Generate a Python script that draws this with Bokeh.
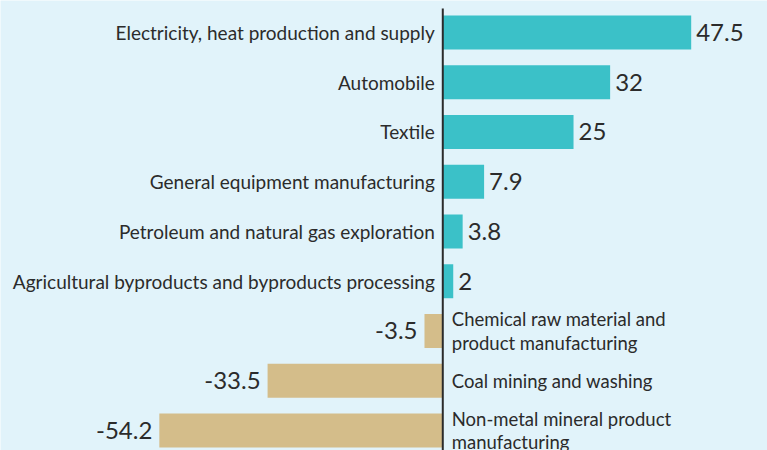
from bokeh.plotting import figure
from bokeh.models import ColumnDataSource, Range1d
from bokeh.core.properties import value
from bokeh.embed import file_html
from bokeh.resources import INLINE

categories = [
    "Electricity, heat production and supply",
    "Automobile",
    "Textile",
    "General equipment manufacturing",
    "Petroleum and natural gas exploration",
    "Agricultural byproducts and byproducts processing",
    "Chemical raw material and\nproduct manufacturing",
    "Coal mining and washing",
    "Non-metal mineral product\nmanufacturing",
]
values = [47.5, 32, 25, 7.9, 3.8, 2, -3.5, -33.5, -54.2]

BG = "#e1f3fa"
POS = "#3bc1c8"
NEG = "#d4bd8a"
TXT = "#2b2b2b"
FONT = "Lato"

rows = [-i for i in range(len(values))]
pos = [i for i, v in enumerate(values) if v >= 0]
neg = [i for i, v in enumerate(values) if v < 0]

def sub(idx):
    return ColumnDataSource(dict(
        y=[rows[i] for i in idx],
        v=[values[i] for i in idx],
        cat=[categories[i] for i in idx],
        lab=[f"{values[i]:g}" for i in idx],
        zero=[0] * len(idx),
    ))

spos = sub(pos)
sneg = sub(neg)

Y_TOP = 0.643
Y_BOT = -8.402
p = figure(width=767, height=450, output_backend="svg", toolbar_location=None,
           x_range=Range1d(-84.57, 62.09), y_range=Range1d(Y_BOT, Y_TOP),
           min_border=0, background_fill_color=BG, border_fill_color=BG)
p.axis.visible = False
p.grid.visible = False
p.outline_line_color = None

p.hbar(y="y", left=0, right="v", height=0.683, source=spos, fill_color=POS, line_color=None)
p.hbar(y="y", left="v", right=0, height=0.683, source=sneg, fill_color=NEG, line_color=None)

# zero line, starting a little below the top edge
p.segment(x0=[0], y0=[Y_TOP - 0.16], x1=[0], y1=[Y_BOT - 1], line_color="#2b2b2b", line_width=2)

# category labels
p.text(x="zero", y="y", text="cat", source=spos, x_offset=-8, text_align="right",
       text_baseline="middle", text_font=value(FONT), text_font_size="19px", text_color=TXT)
p.text(x="zero", y="y", text="cat", source=sneg, x_offset=9, text_align="left",
       text_baseline="middle", text_font=value(FONT), text_font_size="18.5px", text_color=TXT,
       text_line_height=1.05)

# value labels
p.text(x="v", y="y", text="lab", source=spos, x_offset=5, text_align="left",
       text_baseline="middle", text_font=value(FONT), text_font_size="24px", text_color=TXT)
p.text(x="v", y="y", text="lab", source=sneg, x_offset=-7, text_align="right",
       text_baseline="middle", text_font=value(FONT), text_font_size="24px", text_color=TXT)

open("out.html", "w").write(file_html(p, INLINE))
